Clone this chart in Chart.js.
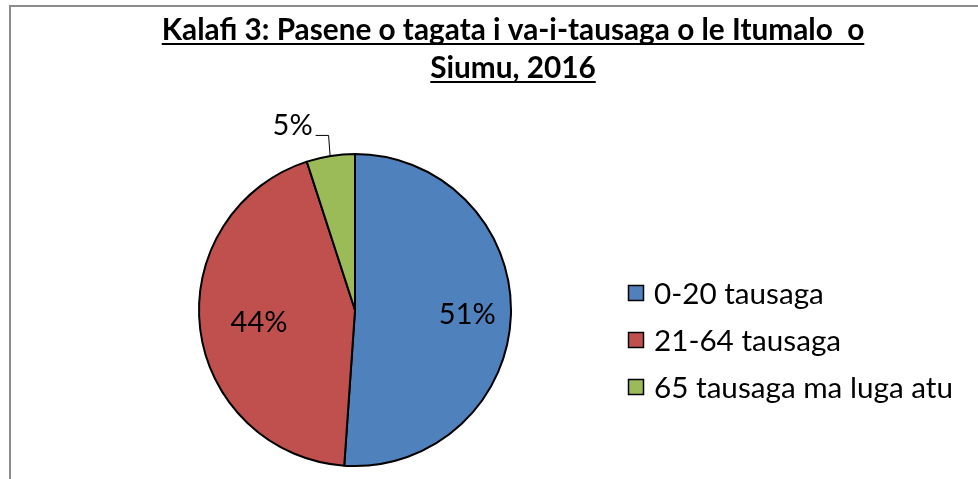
<!DOCTYPE html>
<html>
<head>
<meta charset="utf-8">
<script src="https://cdn.jsdelivr.net/npm/chart.js@4"></script>
<style>
  html, body { margin: 0; padding: 0; background: #fff; }
  #wrap { width: 978px; height: 479px; position: relative; }
</style>
</head>
<body>
<div id="wrap"><canvas id="pieChart" width="978" height="479"></canvas></div>
<script>
const titleLines = ['Kalafi 3: Pasene o tagata i va-i-tausaga o le Itumalo  o', 'Siumu, 2016'];
const categories = ['0-20 tausaga', '21-64 tausaga', '65 tausaga ma luga atu'];
const shares = [51.1, 43.9, 5.0];
const sliceColors = ['#4F81BD', '#C0504D', '#9BBB59'];

// fit a string to a target width by choosing the font size
function fitFont(ctx, text, weight, target) {
    ctx.font = weight + ' 40px Lato';
    const w = ctx.measureText(text).width;
    return 40 * target / w;
}

const decorPlugin = {
    id: 'decor',
    beforeDraw(chart) {
        const ctx = chart.ctx;
        ctx.save();
        ctx.strokeStyle = '#8c8c8c';
        ctx.lineWidth = 2;
        ctx.beginPath();
        ctx.moveTo(10, 490);
        ctx.lineTo(10, 6);
        ctx.lineTo(990, 6);
        ctx.stroke();
        ctx.restore();
    },
    afterDraw(chart) {
        const ctx = chart.ctx;
        ctx.save();
        ctx.fillStyle = '#000';
        ctx.textBaseline = 'alphabetic';

        // title, bold and underlined
        const tSize = fitFont(ctx, titleLines[0], 'bold', 703);
        ctx.font = 'bold ' + tSize + 'px Lato';
        ctx.textAlign = 'center';
        const baselines = [40, 78];
        titleLines.forEach((line, i) => {
            const w = ctx.measureText(line).width;
            ctx.fillText(line, 513, baselines[i]);
            ctx.fillRect(513 - w / 2, baselines[i] + 3, w, 2);
        });

        // percentage labels
        const meta = chart.getDatasetMeta(0);
        ctx.font = '29px Lato';
        ctx.textAlign = 'center';
        ctx.textBaseline = 'middle';
        const total = shares.reduce((a, b) => a + b, 0);
        const labelPos = [0.72, 0.62];
        meta.data.forEach((arc, i) => {
            const txt = Math.round(shares[i] / total * 100) + '%';
            const p = arc.getProps(['x', 'y', 'startAngle', 'endAngle', 'outerRadius'], true);
            const mid = (p.startAngle + p.endAngle) / 2;
            if (i < 2) {
                const r = p.outerRadius * labelPos[i];
                ctx.fillText(txt, p.x + Math.cos(mid) * r, p.y + Math.sin(mid) * r + 1);
            } else {
                const ex = p.x + Math.cos(mid) * p.outerRadius;
                const ey = p.y + Math.sin(mid) * p.outerRadius;
                ctx.fillText(txt, ex - 38, ey - 30);
                ctx.strokeStyle = '#000';
                ctx.lineWidth = 1;
                ctx.beginPath();
                ctx.moveTo(ex - 15, ey - 20.5);
                ctx.lineTo(ex - 2, ey - 20.5);
                ctx.lineTo(ex - 0.5, ey);
                ctx.stroke();
            }
        });

        // legend
        const lSize = fitFont(ctx, categories[2], 'normal', 299);
        ctx.font = lSize + 'px Lato';
        ctx.textAlign = 'left';
        ctx.textBaseline = 'middle';
        const rows = [293, 340, 387];
        categories.forEach((c, i) => {
            ctx.fillStyle = sliceColors[i];
            ctx.fillRect(628, rows[i] - 8, 16, 16);
            ctx.strokeStyle = '#000';
            ctx.lineWidth = 1.5;
            ctx.strokeRect(628.5, rows[i] - 7.5, 15, 15);
            ctx.fillStyle = '#000';
            ctx.fillText(c, 654, rows[i] + 1);
        });
        ctx.restore();
    }
};

const ctx = document.getElementById('pieChart').getContext('2d');
new Chart(ctx, {
    type: 'pie',
    data: {
        labels: categories,
        datasets: [{
            data: shares,
            backgroundColor: sliceColors,
            borderColor: '#000',
            borderWidth: 2
        }]
    },
    options: {
        responsive: false,
        animation: false,
        layout: { padding: { top: 153, bottom: 12, left: 198, right: 466 } },
        plugins: {
            legend: { display: false },
            tooltip: { enabled: false },
            title: { display: false }
        }
    },
    plugins: [decorPlugin]
});
</script>
</body>
</html>
